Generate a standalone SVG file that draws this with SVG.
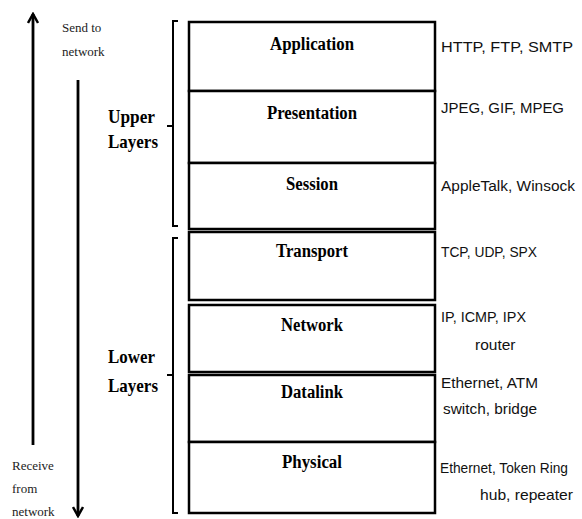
<svg xmlns="http://www.w3.org/2000/svg" width="582" height="519" viewBox="0 0 582 519">
<defs>
<marker id="ah" viewBox="0 0 12 12" refX="10" refY="6" markerWidth="12" markerHeight="12" markerUnits="userSpaceOnUse" orient="auto"><path d="M1,1 L10,6 L1,11" fill="none" stroke="#000" stroke-width="2.5"/></marker>
<style>
.box{fill:#fff;stroke:#000;stroke-width:2.5}
.ln{fill:none;stroke:#000;stroke-width:2}
.arr{fill:none;stroke:#000;stroke-width:2.8}
.name{font-family:"Liberation Serif",serif;font-weight:bold;font-size:18px;text-anchor:middle;fill:#000}
.grp{font-family:"Liberation Serif",serif;font-weight:bold;font-size:19px;fill:#000}
.small{font-family:"Liberation Serif",serif;font-size:13px;fill:#222}
.proto{font-family:"Liberation Sans",sans-serif;font-size:15.5px;fill:#111}
</style>
</defs>
<rect width="582" height="519" fill="#fff"/>
<g id="connectors">
<line class="arr" x1="33" y1="445" x2="33" y2="14" marker-end="url(#ah)"/>
<line class="arr" x1="78" y1="80" x2="78" y2="516" marker-end="url(#ah)"/>
</g>
<g id="labels">
<text class="small" x="62" y="32">Send to</text>
<text class="small" x="62" y="56">network</text>
<text class="small" x="12" y="470">Receive</text>
<text class="small" x="12" y="493">from</text>
<text class="small" x="12" y="516">network</text>
</g>
<g id="upper-layers">
<path class="ln" d="M178,21 H173 V226 H178 M173,126 H167"/>
<text class="grp" x="108" y="123" textLength="47" lengthAdjust="spacingAndGlyphs">Upper</text>
<text class="grp" x="108" y="148" textLength="50" lengthAdjust="spacingAndGlyphs">Layers</text>
</g>
<g id="lower-layers">
<path class="ln" d="M178,238 H173 V513 H178 M173,375 H167"/>
<text class="grp" x="108" y="363" textLength="47" lengthAdjust="spacingAndGlyphs">Lower</text>
<text class="grp" x="108" y="392" textLength="50" lengthAdjust="spacingAndGlyphs">Layers</text>
</g>
<g id="application">
<rect class="box" x="189" y="22" width="246" height="69"/>
<text class="name" x="312" y="50" textLength="84" lengthAdjust="spacingAndGlyphs">Application</text>
<text class="proto" x="441" y="52" textLength="132" lengthAdjust="spacingAndGlyphs">HTTP, FTP, SMTP</text>
</g>
<g id="presentation">
<rect class="box" x="189" y="91" width="246" height="72"/>
<text class="name" x="312" y="119" textLength="90" lengthAdjust="spacingAndGlyphs">Presentation</text>
<text class="proto" x="441" y="113" textLength="123" lengthAdjust="spacingAndGlyphs">JPEG, GIF, MPEG</text>
</g>
<g id="session">
<rect class="box" x="189" y="163" width="246" height="66"/>
<text class="name" x="312" y="190" textLength="52" lengthAdjust="spacingAndGlyphs">Session</text>
<text class="proto" x="441" y="191" textLength="134" lengthAdjust="spacingAndGlyphs">AppleTalk, Winsock</text>
</g>
<g id="transport">
<rect class="box" x="189" y="232" width="246" height="68"/>
<text class="name" x="312" y="257" textLength="72" lengthAdjust="spacingAndGlyphs">Transport</text>
<text class="proto" x="441" y="257" textLength="96" lengthAdjust="spacingAndGlyphs">TCP,  UDP, SPX</text>
</g>
<g id="network">
<rect class="box" x="189" y="305" width="246" height="67"/>
<text class="name" x="312" y="331" textLength="62" lengthAdjust="spacingAndGlyphs">Network</text>
<text class="proto" x="441" y="322" textLength="85" lengthAdjust="spacingAndGlyphs">IP, ICMP, IPX</text>
<text class="proto" x="475" y="350">router</text>
</g>
<g id="datalink">
<rect class="box" x="189" y="375" width="246" height="67"/>
<text class="name" x="312" y="398" textLength="62" lengthAdjust="spacingAndGlyphs">Datalink</text>
<text class="proto" x="441" y="388" textLength="97" lengthAdjust="spacingAndGlyphs">Ethernet, ATM</text>
<text class="proto" x="443" y="414" textLength="94" lengthAdjust="spacingAndGlyphs">switch, bridge</text>
</g>
<g id="physical">
<rect class="box" x="189" y="442" width="246" height="71"/>
<text class="name" x="312" y="468" textLength="60" lengthAdjust="spacingAndGlyphs">Physical</text>
<text class="proto" x="440" y="473" style="font-size:15px" textLength="128" lengthAdjust="spacingAndGlyphs">Ethernet, Token Ring</text>
<text class="proto" x="480" y="500" textLength="93" lengthAdjust="spacingAndGlyphs">hub, repeater</text>
</g>
</svg>
